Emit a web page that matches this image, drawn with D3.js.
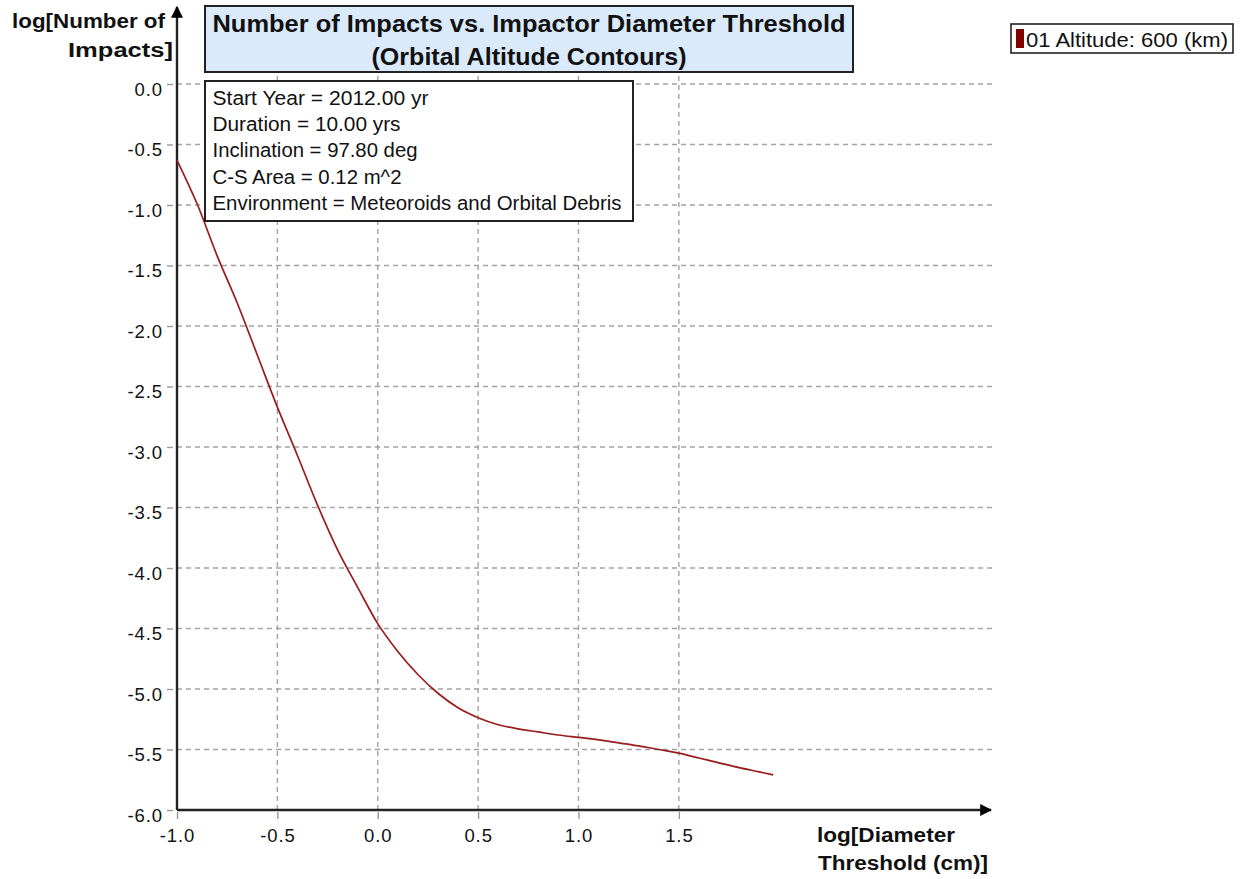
<!DOCTYPE html>
<html lang="en">
    <head>
        <meta charset="utf-8">
        <title>Number of Impacts vs. Impactor Diameter Threshold</title>
        <script type="text/javascript" src="https://cdn.jsdelivr.net/npm/d3@7/dist/d3.min.js"></script>
        <style>
            body { margin: 0; background: #fff; }
            text { font-family: "Liberation Sans", Arial, sans-serif; fill: #111; }
        </style>
    </head>
    <body>
    <svg width="1241" height="879"></svg>
        <script type="text/javascript">
            // values
            var diameterLog = [-1.0, -0.9, -0.8, -0.7, -0.6, -0.5, -0.4, -0.3, -0.2, -0.1,
                               0.0, 0.1, 0.2, 0.3, 0.4, 0.5, 0.6, 0.7, 0.8, 0.9,
                               1.0, 1.1, 1.2, 1.3, 1.4, 1.5, 1.6, 1.7, 1.8, 1.9, 1.97];
            var impactsLog = [-0.63, -0.99, -1.42, -1.81, -2.24, -2.67, -3.07, -3.48, -3.85, -4.16,
                              -4.46, -4.69, -4.88, -5.035, -5.155, -5.237, -5.295, -5.33, -5.355, -5.38,
                              -5.40, -5.42, -5.445, -5.47, -5.50, -5.53, -5.57, -5.61, -5.65, -5.685, -5.71];
            var xTicks = [-1.0, -0.5, 0.0, 0.5, 1.0, 1.5];
            var yTicks = [0.0, -0.5, -1.0, -1.5, -2.0, -2.5, -3.0, -3.5, -4.0, -4.5, -5.0, -5.5, -6.0];
            var titleLines = ["Number of Impacts vs. Impactor Diameter Threshold", "(Orbital Altitude Contours)"];
            var infoLines = ["Start Year = 2012.00 yr", "Duration = 10.00 yrs", "Inclination = 97.80 deg",
                             "C-S Area = 0.12 m^2", "Environment = Meteoroids and Orbital Debris"];
            var seriesName = "01 Altitude: 600 (km)";

            var svg = d3.select('svg');
            var x = d3.scaleLinear().domain([-1, 3.05]).range([177, 990]),
                y = d3.scaleLinear().domain([-6, 0]).range([810, 84]);
            var fmt = function(d) { return d.toFixed(1); };
            var font = '"Liberation Sans", Arial, sans-serif';

            // grid
            svg.append("g").selectAll("line")
                .data(yTicks.filter(function(d) { return d > -6; }))
                .enter().append("line")
                .attr("x1", x(-1)).attr("x2", 993)
                .attr("y1", function(d) { return y(d); })
                .attr("y2", function(d) { return y(d); })
                .attr("stroke", "#a3a3a3").attr("stroke-width", 1.4)
                .attr("stroke-dasharray", "5,4");

            svg.append("g").selectAll("line")
                .data(xTicks.filter(function(d) { return d > -1; }))
                .enter().append("line")
                .attr("x1", function(d) { return x(d); })
                .attr("x2", function(d) { return x(d); })
                .attr("y1", y(-6)).attr("y2", 10)
                .attr("stroke", "#a3a3a3").attr("stroke-width", 1.4)
                .attr("stroke-dasharray", "5,4");

            // tick marks and labels
            var yAxis = d3.axisLeft(y).tickValues(yTicks).tickFormat(fmt).tickSize(6).tickPadding(4);
            var gy = svg.append("g").attr("transform", "translate(" + (x(-1) - 4) + ",0)").call(yAxis);
            gy.select(".domain").remove();
            gy.selectAll(".tick line").attr("stroke", "#999").attr("stroke-width", 1.4);
            gy.selectAll(".tick text")
                .attr("font-family", font)
                .attr("font-size", "18.5px").attr("fill", "#111")
                .attr("letter-spacing", "0.9px")
                .attr("dy", "0.6em");

            var xAxis = d3.axisBottom(x).tickValues(xTicks).tickFormat(fmt).tickSize(7).tickPadding(10);
            var gx = svg.append("g").attr("transform", "translate(0," + (y(-6) + 2) + ")").call(xAxis);
            gx.select(".domain").remove();
            gx.selectAll(".tick line").attr("stroke", "#999").attr("stroke-width", 1.4);
            gx.selectAll(".tick text")
                .attr("font-family", font)
                .attr("font-size", "18.5px").attr("fill", "#111")
                .attr("letter-spacing", "0.9px");

            // axis lines with arrows
            svg.append("defs").append("marker")
                .attr("id", "arrow").attr("viewBox", "0 0 10 10")
                .attr("refX", 9).attr("refY", 5)
                .attr("markerWidth", 12).attr("markerHeight", 14)
                .attr("markerUnits", "userSpaceOnUse")
                .attr("orient", "auto")
                .append("path").attr("d", "M0,0L10,5L0,10Z").attr("fill", "#000");

            svg.append("line")
                .attr("x1", x(-1)).attr("y1", y(-6)).attr("x2", x(-1)).attr("y2", 7)
                .attr("stroke", "#222").attr("stroke-width", 2.4).attr("marker-end", "url(#arrow)");
            svg.append("line")
                .attr("x1", x(-1)).attr("y1", y(-6)).attr("x2", 991).attr("y2", y(-6))
                .attr("stroke", "#222").attr("stroke-width", 2.4).attr("marker-end", "url(#arrow)");

            // the series
            var pts = diameterLog.map(function(d, i) { return [d, impactsLog[i]]; });
            svg.append("path")
                .datum(pts)
                .attr("fill", "none")
                .attr("stroke", "#9b1c1c")
                .attr("stroke-width", 1.7)
                .attr("d", d3.line()
                    .curve(d3.curveMonotoneX)
                    .x(function(d) { return x(d[0]); })
                    .y(function(d) { return y(d[1]); }));

            // axis titles
            var axisTitles = [
                {t: "log[Number of", x: 12, y: 28, w: 153},
                {t: "Impacts]", x: 68, y: 57, w: 105},
                {t: "log[Diameter", x: 817, y: 842, w: 138},
                {t: "Threshold (cm)]", x: 818, y: 870, w: 170}
            ];
            svg.selectAll(".axis-title")
                .data(axisTitles)
                .enter().append("text")
                .attr("class", "axis-title")
                .attr("x", function(d) { return d.x; })
                .attr("y", function(d) { return d.y; })
                .attr("font-size", "20px").attr("font-weight", "bold")
                .attr("textLength", function(d) { return d.w; })
                .attr("lengthAdjust", "spacingAndGlyphs")
                .text(function(d) { return d.t; });

            // title box
            svg.append("rect")
                .attr("x", 205).attr("y", 6).attr("width", 648).attr("height", 66)
                .attr("fill", "#dbeafb").attr("stroke", "#222").attr("stroke-width", 2);
            var titleWidths = [633, 315];
            svg.selectAll(".title")
                .data(titleLines)
                .enter().append("text")
                .attr("class", "title")
                .attr("x", 529)
                .attr("y", function(d, i) { return 32 + i * 33; })
                .attr("text-anchor", "middle")
                .attr("font-size", "24px").attr("font-weight", "bold")
                .attr("textLength", function(d, i) { return titleWidths[i]; })
                .attr("lengthAdjust", "spacingAndGlyphs")
                .text(function(d) { return d; });

            // info box
            svg.append("rect")
                .attr("x", 205).attr("y", 81).attr("width", 428).attr("height", 140)
                .attr("fill", "#fff").attr("stroke", "#222").attr("stroke-width", 2);
            var infoWidths = [216, 188, 205, 189, 409];
            svg.selectAll(".info")
                .data(infoLines)
                .enter().append("text")
                .attr("class", "info")
                .attr("x", 212.5)
                .attr("y", function(d, i) { return 105 + i * 26.2; })
                .attr("font-size", "20px")
                .attr("textLength", function(d, i) { return infoWidths[i]; })
                .attr("lengthAdjust", "spacingAndGlyphs")
                .text(function(d) { return d; });

            // legend
            svg.append("rect")
                .attr("x", 1011).attr("y", 24).attr("width", 222).attr("height", 29)
                .attr("fill", "#fff").attr("stroke", "#222").attr("stroke-width", 1.6);
            svg.append("rect")
                .attr("x", 1016).attr("y", 29).attr("width", 8).attr("height", 19)
                .attr("fill", "#800000");
            svg.append("text")
                .attr("x", 1026).attr("y", 46.5)
                .attr("font-size", "19.5px")
                .attr("textLength", 202).attr("lengthAdjust", "spacingAndGlyphs")
                .text(seriesName);
        </script>
    </body>
</html>
